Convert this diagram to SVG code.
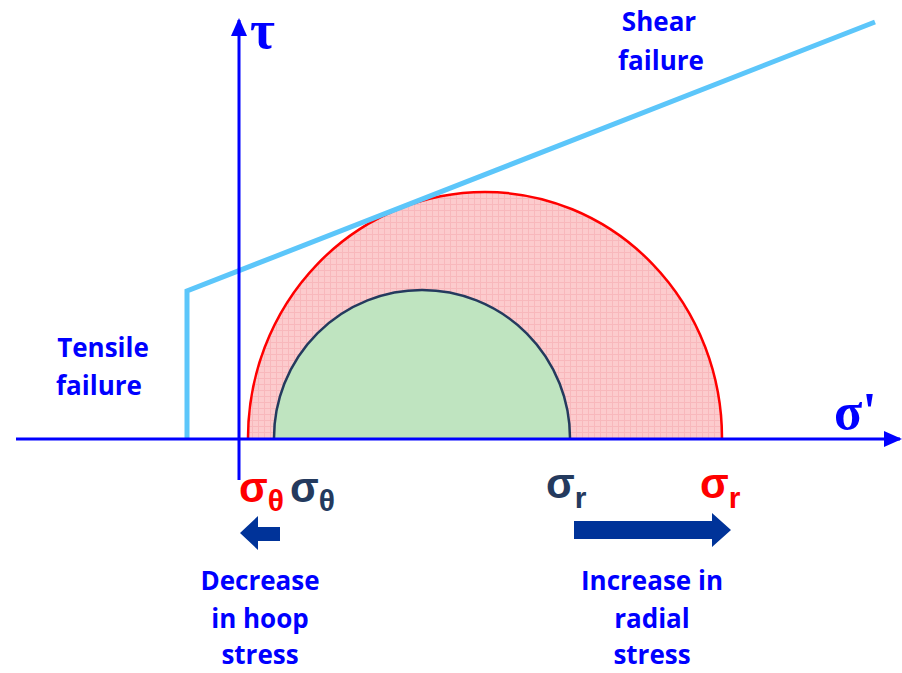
<svg xmlns="http://www.w3.org/2000/svg" width="902" height="673" viewBox="0 0 902 673">
<defs>
<style>
.lbl{font-family:"Open Sans","Liberation Sans",sans-serif;font-weight:bold;font-size:26px;fill:#0000ff;text-anchor:middle}
.greek{font-family:"Liberation Serif","DejaVu Serif",serif;font-weight:bold}
.sig{font-family:"Liberation Sans","DejaVu Sans",sans-serif;font-weight:bold}
.axis{stroke:#0000ff;stroke-width:3;fill:none}
.env{stroke:#5cc6fa;stroke-width:5;fill:none;stroke-linejoin:miter}
.fat{fill:#003399}
</style>
<pattern id="pk" width="6" height="6" patternUnits="userSpaceOnUse">
<rect width="6" height="6" fill="#fccbcd"/>
<path d="M0 0.5H6M0.5 0V6" stroke="#f8b8bc" stroke-width="1"/>
</pattern>
<marker id="ah" markerWidth="18" markerHeight="16" refX="16" refY="8" orient="auto" markerUnits="userSpaceOnUse">
<path d="M0 0L18 8L0 16Z" fill="#0000ff"/>
</marker>
</defs>
<rect width="902" height="673" fill="#ffffff"/>

<g id="big-circle">
<path d="M248 438 A237 246 0 0 1 722 438 Z" fill="url(#pk)" stroke="none"/>
<path d="M248 438 A237 246 0 0 1 722 438" fill="none" stroke="#ff0000" stroke-width="2.5"/>
</g>
<g id="small-circle">
<path d="M274 438 A148 148 0 0 1 570 438 Z" fill="#bfe4c0" stroke="none"/>
<path d="M274 438 A148 148 0 0 1 570 438" fill="none" stroke="#243a5e" stroke-width="2.5"/>
</g>

<g id="connectors">
<path class="env" d="M187 439 V291 L875 22"/>
<line class="axis" x1="16" y1="439" x2="900" y2="439" marker-end="url(#ah)"/>
<line class="axis" x1="239" y1="480" x2="239" y2="20" marker-end="url(#ah)"/>
</g>

<g id="tau-label"><text class="greek" x="250" y="48" font-size="54" fill="#0000ff">τ</text></g>
<g id="sigma-prime-label"><text class="greek" x="834" y="429" font-size="52" fill="#0000ff">σ'</text></g>

<g id="shear-failure">
<text class="lbl" x="659" y="31">Shear</text>
<text class="lbl" x="661" y="70">failure</text>
</g>
<g id="tensile-failure">
<text class="lbl" x="103" y="357">Tensile</text>
<text class="lbl" x="99" y="395">failure</text>
</g>

<g id="sigma-theta-red">
<text class="sig" x="239" y="502" font-size="42" fill="#ff0000">σ<tspan font-size="30" dy="9">θ</tspan></text>
</g>
<g id="sigma-theta-dark">
<text class="sig" x="290" y="502" font-size="42" fill="#243a5e">σ<tspan font-size="30" dy="9">θ</tspan></text>
</g>
<g id="sigma-r-dark">
<text class="sig" x="546" y="498" font-size="42" fill="#243a5e">σ<tspan font-size="30" dy="10">r</tspan></text>
</g>
<g id="sigma-r-red">
<text class="sig" x="700" y="498" font-size="42" fill="#ff0000">σ<tspan font-size="30" dy="10">r</tspan></text>
</g>

<g id="left-arrow">
<path class="fat" d="M240 533 L258 516 V527 H280 V541 H258 V550 Z"/>
</g>
<g id="right-arrow">
<path class="fat" d="M574 521 H712 V513 L731 530 L712 547 V539 H574 Z"/>
</g>

<g id="decrease-label">
<text class="lbl" x="260" y="590">Decrease</text>
<text class="lbl" x="260" y="628">in hoop</text>
<text class="lbl" x="260" y="664">stress</text>
</g>
<g id="increase-label">
<text class="lbl" x="652" y="590">Increase in</text>
<text class="lbl" x="652" y="628">radial</text>
<text class="lbl" x="652" y="664">stress</text>
</g>
</svg>
